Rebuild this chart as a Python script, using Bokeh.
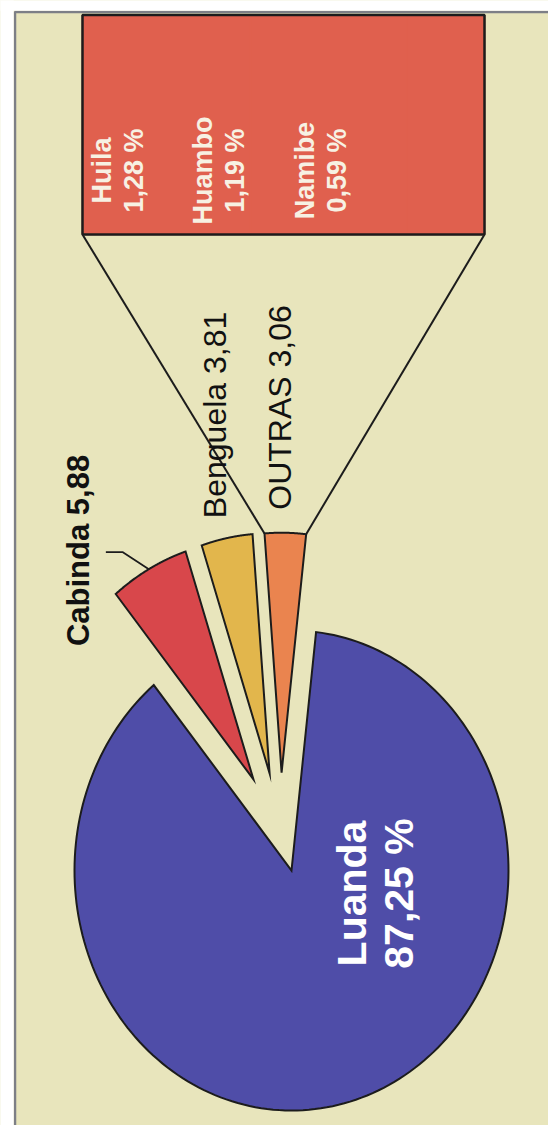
import numpy as np
from bokeh.plotting import figure
from bokeh.models import Range1d
from bokeh.embed import file_html
from bokeh.resources import INLINE
from bokeh.core.properties import value

# ---------------- data ----------------
pie_names = ["Luanda", "Cabinda", "Benguela", "OUTRAS"]
pie_values = [87.25, 5.88, 3.81, 3.06]
pie_value_texts = ["87,25 %", "5,88", "3,81", "3,06"]
bar_names = ["Huila", "Huambo", "Namibe"]
bar_values = [1.28, 1.19, 0.59]
bar_value_texts = ["1,28 %", "1,19 %", "0,59 %"]

# ---------------- layout / style ----------------
W, H = 548, 1125
CX, CY = 291.0, 870.0          # pie centre (screen px)
RX, RY = 217.0, 240.0          # pie radii
START_DEG = 6.5                # clockwise from 12 o'clock
explode_dir = [0.0, -24.8, -14.0, -6.4]
explode_dist = [0.0, 0.418, 0.417, 0.41]
pie_colors = ["#4F4DA8", "#D8474B", "#E2B64C", "#EA844F"]
BAR_L, BAR_R, BAR_T, BAR_B = 82.0, 484.0, 14.5, 234.0
BAR_COLOR = "#E0604E"
BG = "#E8E5BC"
EDGE = "#1c1c1c"
FONT = value("Liberation Sans")
BASE_SHIFT = 0.4               # correction of the rotated baseline (em)


def sy(v):
    return H - np.asarray(v, dtype=float)


p = figure(width=W, height=H, x_range=Range1d(0, W), y_range=Range1d(0, H),
           output_backend="svg", toolbar_location=None, min_border=0,
           x_axis_location=None, y_axis_location=None)
p.title.visible = False
p.min_border_left = p.min_border_right = 0
p.min_border_top = p.min_border_bottom = 0
p.grid.visible = False
p.outline_line_color = None
p.background_fill_color = BG
p.border_fill_color = BG

# chart frame
p.quad(left=14.5, right=W + 20, top=sy(11.5), bottom=sy(H + 20),
       fill_color=BG, line_color=None)
p.line(x=[14.5, 14.5, W + 20], y=sy([H + 20, 11.5, 11.5]),
       line_color="#7d7f86", line_width=2.5)
# white margin outside the frame
p.quad(left=[-5, -5], right=[13.2, W + 5], top=[sy(-5), sy(-5)],
       bottom=[sy(H + 5), sy(10.2)], fill_color="white", line_color=None)

# ---------------- pie ----------------
total = sum(pie_values)
angles = [START_DEG]
for v in pie_values:
    angles.append(angles[-1] + 360.0 * v / total)

xs, ys, origins = [], [], []
for i in range(len(pie_values)):
    d = np.radians(explode_dir[i])
    ox = CX + explode_dist[i] * RX * np.sin(d)
    oy = CY - explode_dist[i] * RY * np.cos(d)
    th = np.radians(np.linspace(angles[i], angles[i + 1], 200))
    px = np.concatenate([[ox], ox + RX * np.sin(th)])
    py = np.concatenate([[oy], oy - RY * np.cos(th)])
    xs.append(list(px))
    ys.append(list(sy(py)))
    origins.append((ox, oy))

p.patches(xs=xs, ys=ys, fill_color=pie_colors, line_color=EDGE,
          line_width=2, line_join="miter")

# ---------------- connectors from OUTRAS slice to bar ----------------
io = 3
ox, oy = origins[io]
a0, a1 = np.radians(angles[io]), np.radians(angles[io + 1])
pL = (ox + RX * np.sin(a0), oy - RY * np.cos(a0))
pR = (ox + RX * np.sin(a1), oy - RY * np.cos(a1))
p.line(x=[BAR_L, pL[0]], y=sy([BAR_B, pL[1]]), line_color=EDGE, line_width=2)
p.line(x=[BAR_R, pR[0]], y=sy([BAR_B, pR[1]]), line_color=EDGE, line_width=2)

# ---------------- stacked bar ----------------
btot = sum(bar_values)
edges = [BAR_L]
for v in bar_values:
    edges.append(edges[-1] + (BAR_R - BAR_L) * v / btot)
p.quad(left=edges[:-1], right=edges[1:], top=[sy(BAR_T)] * 3,
       bottom=[sy(BAR_B)] * 3, fill_color=BAR_COLOR, line_color=BAR_COLOR,
       line_width=1.5)
p.quad(left=BAR_L, right=BAR_R, top=sy(BAR_T), bottom=sy(BAR_B),
       fill_color=None, line_color=EDGE, line_width=2.5)

# ---------------- Cabinda leader line ----------------
ic = 1
ox, oy = origins[ic]
am = np.radians(0.5 * (angles[ic] + angles[ic + 1]))
anc = (ox + RX * np.sin(am), oy - RY * np.cos(am))
elb = (anc[0] - 26, anc[1] - 17)
end = (elb[0] - 17, elb[1])
p.line(x=[anc[0], elb[0], end[0]], y=sy([anc[1], elb[1], end[1]]),
       line_color=EDGE, line_width=1.8)

# ---------------- labels ----------------
ROT = np.pi / 2


def bx(x, fs):
    return x - BASE_SHIFT * fs


FS_BAR = 27
bx0, bstep, vgap, bmid = 112.0, 101.5, 32.0, 170.0
lx, ly, lt = [], [], []
for i in range(len(bar_names)):
    lx += [bx(bx0 + i * bstep, FS_BAR), bx(bx0 + i * bstep + vgap, FS_BAR)]
    ly += [bmid, bmid]
    lt += [bar_names[i], bar_value_texts[i]]
p.text(x=lx, y=list(sy(ly)), text=lt, angle=ROT, text_font=FONT,
       text_font_size=f"{FS_BAR}px", text_font_style="bold", text_color="#F7F1E3",
       text_align="center", text_baseline="alphabetic")

FS_LU = 41
p.text(x=[bx(368, FS_LU), bx(415, FS_LU)], y=list(sy([893, 893])),
       text=[pie_names[0], pie_value_texts[0]], angle=ROT, text_font=FONT,
       text_font_size=f"{FS_LU}px", text_font_style="bold", text_color="#FFFFFF",
       text_align="center", text_baseline="alphabetic")

FS_CA = 31
p.text(x=[bx(90, FS_CA)], y=list(sy([550])),
       text=[pie_names[1] + " " + pie_value_texts[1]],
       angle=ROT, text_font=FONT, text_font_size=f"{FS_CA}px", text_font_style="bold",
       text_color="#111111", text_align="center", text_baseline="alphabetic")

FS_BE = 32
p.text(x=[bx(227, FS_BE), bx(292, FS_BE)], y=list(sy([410, 407])),
       text=[pie_names[2] + "  " + pie_value_texts[2],
             pie_names[3] + " " + pie_value_texts[3]],
       angle=ROT, text_font=FONT, text_font_size=f"{FS_BE}px",
       text_color="#111111", text_align="center", text_baseline="alphabetic")

open("out.html", "w").write(file_html(p, INLINE))
